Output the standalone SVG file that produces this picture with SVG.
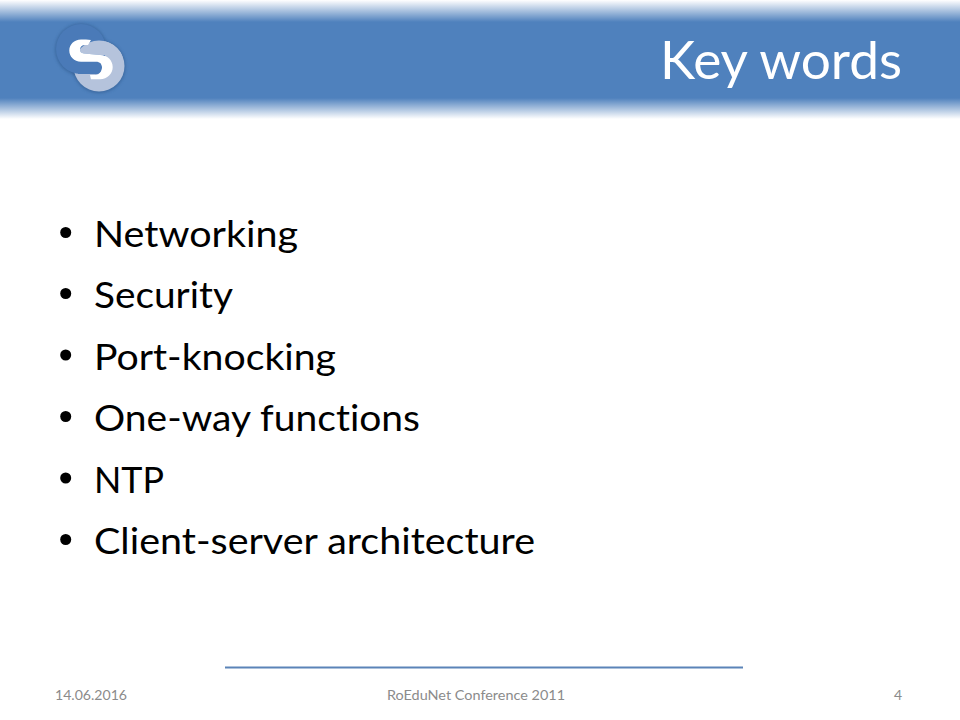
<svg xmlns="http://www.w3.org/2000/svg" width="960" height="720" viewBox="0 0 960 720">
<style>
text{font-family:"Lato","Open Sans","Liberation Sans",sans-serif;font-variant-ligatures:none}
.b{font-size:37.500px;fill:#000}
.f{font-size:14px;fill:#8b8b8b}
</style>
<defs>
<linearGradient id="t" x1="0" y1="0" x2="0" y2="1"><stop offset="0" stop-color="#4f81bd" stop-opacity="0"/><stop offset="1" stop-color="#4f81bd"/></linearGradient>
<linearGradient id="u" x1="0" y1="0" x2="0" y2="1"><stop offset="0" stop-color="#4f81bd"/><stop offset="1" stop-color="#4f81bd" stop-opacity="0"/></linearGradient>
<filter id="s" x="-20%" y="-20%" width="140%" height="140%"><feGaussianBlur stdDeviation="1.500"/></filter>
<clipPath id="lc"><circle cx="99" cy="66" r="25.500"/></clipPath>
</defs>
<rect width="960" height="720" fill="#fff"/>
<g id="banner">
<rect x="0" y="0" width="960" height="22" fill="url(#t)"/>
<rect x="0" y="22" width="960" height="76" fill="#4f81bd"/>
<rect x="0" y="98" width="960" height="21" fill="url(#u)"/>
</g>
<g id="logo">
<circle cx="81" cy="49.500" r="26" fill="#2f5a8e" opacity=".6" filter="url(#s)"/>
<circle cx="99" cy="66.500" r="26.500" fill="#2f5a8e" opacity=".6" filter="url(#s)"/>
<circle cx="99" cy="66" r="25.500" fill="#b5c3dc"/>
<circle cx="81" cy="49" r="25" fill="#4a7ab8"/>
<path d="M85 45 C82 45 80 47 80 49.500 C80 51.500 81 53.300 84 53.500 L100 55 H126 V38 H88 Z" fill="#b5c3dc" clip-path="url(#lc)"/>
<path d="M78 74 H95 C99 75 102 71.500 102 67.500 C102 64 100 61 96 61 H78 Z" fill="#4a7ab8"/>
<path d="M91 40 C88 39.500 84 39.500 81 39.500 C74 39.500 69.300 44.500 69.300 50.500 C69.300 56.500 74 61.700 81 61.700 H96 C100 61.700 102 64 102 67.500 C102 71.500 99 75 95 75 H90 L91 79.300 H100 C107.500 79.300 112.700 73.500 112.700 67 C112.700 60.500 107.500 55 100 55 L84 53.500 C81 53.300 80 51.500 80 49.500 C80 47 82 45 85 45 H88 Z" fill="#fff"/>
</g>
<text id="title" x="660" y="79" font-size="52" fill="#fff" textLength="242" lengthAdjust="spacingAndGlyphs">Key words</text>
<g id="bullets">
<circle cx="65.700" cy="232.500" r="5.500"/><text class="b" x="94" y="247" textLength="204" lengthAdjust="spacingAndGlyphs">Networking</text>
<circle cx="65.700" cy="293.500" r="5.500"/><text class="b" x="94" y="308" textLength="139" lengthAdjust="spacingAndGlyphs">Security</text>
<circle cx="65.700" cy="355" r="5.500"/><text class="b" x="94" y="370" textLength="242" lengthAdjust="spacingAndGlyphs">Port-knocking</text>
<circle cx="65.700" cy="416.500" r="5.500"/><text class="b" x="94" y="431" textLength="326" lengthAdjust="spacingAndGlyphs">One-way functions</text>
<circle cx="65.700" cy="478" r="5.500"/><text class="b" x="94" y="493" textLength="70" lengthAdjust="spacingAndGlyphs">NTP</text>
<circle cx="65.700" cy="539.500" r="5.500"/><text class="b" x="94" y="554" textLength="441" lengthAdjust="spacingAndGlyphs">Client-server architecture</text>
</g>
<g id="footer">
<rect x="225" y="666.500" width="518" height="2" fill="#5b84b8"/>
<text class="f" x="55" y="700" textLength="72" lengthAdjust="spacingAndGlyphs">14.06.2016</text>
<text class="f" x="387" y="700" textLength="178" lengthAdjust="spacingAndGlyphs">RoEduNet Conference 2011</text>
<text class="f" x="902" y="700" text-anchor="end">4</text>
</g>
</svg>
